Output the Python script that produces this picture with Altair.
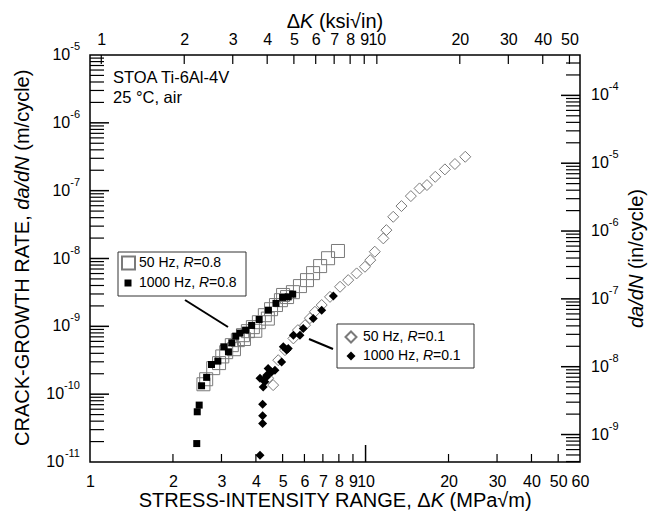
import altair as alt
import pandas as pd

# ---------------- data ----------------
# 50 Hz, R = 0.8 (open squares)
k_50_r08 = [2.58, 2.64, 2.80, 2.94, 3.02, 3.12, 3.27, 3.33, 3.44, 3.59, 3.62, 3.74, 3.90, 3.98,
            4.10, 4.31, 4.42, 4.54, 4.73, 4.93, 5.02, 5.19, 5.45, 5.78, 6.13, 6.45, 6.84, 7.31, 7.94]
v_50_r08 = [1.40e-10, 1.66e-10, 2.42e-10, 2.87e-10, 3.6e-10, 4.16e-10, 5.28e-10, 4.6e-10, 6.26e-10,
            7.41e-10, 6.5e-10, 8.49e-10, 9.73e-10, 8.6e-10, 1.15e-9, 1.46e-9, 1.3e-9, 1.79e-9, 2.06e-9,
            2.43e-9, 2.9e-9, 2.70e-9, 3.19e-9, 3.92e-9, 4.80e-9, 6.09e-9, 7.73e-9, 1.01e-8, 1.29e-8]

# 1000 Hz, R = 0.8 (filled squares)
k_1000_r08 = [2.44, 2.45, 2.49, 2.54, 2.65, 2.76, 2.91, 3.06, 3.18, 3.27, 3.38, 3.50, 3.67, 3.86,
              4.11, 4.44, 4.73, 5.00, 5.24, 5.44]
v_1000_r08 = [1.87e-11, 5.5e-11, 6.9e-11, 1.33e-10, 1.77e-10, 2.74e-10, 3.07e-10, 4.99e-10, 4.21e-10,
              5.71e-10, 7.17e-10, 7.94e-10, 8.79e-10, 1.03e-9, 1.26e-9, 1.73e-9, 2.18e-9, 2.67e-9,
              2.72e-9, 2.98e-9]

# 50 Hz, R = 0.1 (open diamonds)
k_50_r01 = [4.43, 4.62, 4.82, 5.10, 5.47, 5.68, 6.03, 6.28, 6.55, 6.93, 7.43, 8.08, 8.65, 9.28,
            9.95, 10.4, 10.8, 11.6, 11.9, 12.6, 13.5, 14.6, 15.7, 16.7, 17.9, 19.4, 21.1, 23.0]
v_50_r01 = [1.72e-10, 1.36e-10, 3.17e-10, 4.46e-10, 6.64e-10, 8.79e-10, 1.04e-9, 1.32e-9, 1.64e-9,
            2.06e-9, 2.72e-9, 3.83e-9, 4.80e-9, 6.03e-9, 7.55e-9, 9.46e-9, 1.26e-8, 1.98e-8, 2.62e-8,
            4.12e-8, 5.93e-8, 8.32e-8, 1.08e-7, 1.21e-7, 1.60e-7, 2.06e-7, 2.47e-7, 3.16e-7]

# 1000 Hz, R = 0.1 (filled diamonds)
k_1000_r01 = [4.14, 4.23, 4.23, 4.23, 4.25, 4.31, 4.14, 4.38, 4.38, 4.43, 4.56, 4.69, 4.96, 5.03,
              5.24, 5.17, 5.47, 5.78, 5.94, 6.46, 6.93, 7.64]
v_1000_r01 = [1.26e-11, 3.7e-11, 4.8e-11, 7.1e-11, 1.28e-10, 1.52e-10, 1.72e-10, 1.80e-10, 1.9e-10,
              2.39e-10, 2.13e-10, 2.26e-10, 2.99e-10, 4.99e-10, 4.72e-10, 4.46e-10, 7.41e-10,
              7.41e-10, 9.3e-10, 1.31e-9, 1.73e-9, 2.79e-9]

# axis tick values
bottom_labels = [1, 2, 3, 4, 5, 6, 7, 8, 9, 10, 20, 30, 40, 50, 60]
bottom_minor = [2, 3, 4, 5, 6, 7, 8, 9, 20, 30, 40, 50]
bottom_major = [10]
top_labels = [1, 2, 3, 4, 5, 6, 7, 8, 9, 10, 20, 30, 40, 50]
top_ticks = [1, 2, 3, 4, 5, 6, 7, 8, 9, 10, 20, 30, 40, 50]
left_exps = [-5, -6, -7, -8, -9, -10, -11]
right_exps = [-4, -5, -6, -7, -8, -9]
mult = [2, 3, 4, 5, 6, 7, 8, 9]

MPA_PER_KSI = 1.0988
IN_PER_M = 39.37
W, H = 490, 407
FONT = "Liberation Sans"
SPACE20 = 5.56  # width of a space at 20 px (Vega trims leading/trailing blanks)

left_major = [10.0 ** e for e in range(-10, -5)]
left_minor = [m * 10.0 ** e for e in range(-11, -5) for m in mult]
r_lo, r_hi = 1e-11 * IN_PER_M, 1e-5 * IN_PER_M
right_major = [10.0 ** e for e in right_exps]
right_minor = [m * 10.0 ** e for e in range(-10, -3) for m in mult if r_lo < m * 10.0 ** e < r_hi]

xs = alt.Scale(type="log", domain=[1, 60], nice=False)
ys = alt.Scale(type="log", domain=[1e-11, 1e-5], nice=False)
xs_top = alt.Scale(type="log", domain=[1 / MPA_PER_KSI, 60 / MPA_PER_KSI], nice=False)
ys_right = alt.Scale(type="log", domain=[r_lo, r_hi], nice=False)

axX = alt.Axis(title=None, values=bottom_labels, ticks=False, domain=False, grid=False,
               labelFont=FONT, labelFontSize=16, labelColor="black", labelPadding=11,
               labelOverlap=False, labelFlush=False, format="d")
axTop = alt.Axis(orient="top", title=None, values=top_labels, ticks=False, domain=False, grid=False,
                 labelFont=FONT, labelFontSize=16, labelColor="black", labelPadding=8,
                 labelOverlap=False, labelFlush=False, format="d")

one = pd.DataFrame({"a": [0]})


def X(f):
    return alt.X(f, scale=xs, axis=axX)


def Y(f):
    return alt.Y(f, scale=ys, axis=None)


def txt(s, x, y, size=14, italic=False, align="left", baseline="middle", angle=0):
    kw = dict(text=s, font=FONT, fontSize=size,
              fontStyle="italic" if italic else "normal",
              align=align, baseline=baseline, color="black")
    if angle:
        kw["angle"] = angle
    return alt.Chart(one).mark_text(**kw).encode(x=alt.value(x), y=alt.value(y))


def series(k, v):
    return pd.DataFrame({"K": k, "v": v})


GRAY = "#7a7a7a"

open_sq = alt.Chart(series(k_50_r08, v_50_r08)).mark_point(
    shape="square", size=169, filled=False, color=GRAY, strokeWidth=1, opacity=1
).encode(x=X("K:Q"), y=Y("v:Q"))
open_dm = alt.Chart(series(k_50_r01, v_50_r01)).mark_point(
    shape="diamond", size=121, filled=False, color=GRAY, strokeWidth=1, opacity=1
).encode(x=X("K:Q"), y=Y("v:Q"))
fill_sq = alt.Chart(series(k_1000_r08, v_1000_r08)).mark_point(
    shape="square", size=49, filled=True, color="black", opacity=1
).encode(x=X("K:Q"), y=Y("v:Q"))
fill_dm = alt.Chart(series(k_1000_r01, v_1000_r01)).mark_point(
    shape="diamond", size=81, filled=True, color="black", opacity=1
).encode(x=X("K:Q"), y=Y("v:Q"))

# inward ticks (bottom / left)
b_minor = alt.Chart(pd.DataFrame({"t": bottom_minor})).mark_rule(color="black", strokeWidth=1.2).encode(
    x=X("t:Q"), y=alt.value(H), y2=alt.value(H - 8))
b_major = alt.Chart(pd.DataFrame({"t": bottom_major})).mark_rule(color="black", strokeWidth=1.5).encode(
    x=X("t:Q"), y=alt.value(H), y2=alt.value(H - 17))
l_minor = alt.Chart(pd.DataFrame({"t": left_minor})).mark_rule(color="black", strokeWidth=1.2).encode(
    y=Y("t:Q"), x=alt.value(0), x2=alt.value(14))
l_major = alt.Chart(pd.DataFrame({"t": left_major})).mark_rule(color="black", strokeWidth=1.5).encode(
    y=Y("t:Q"), x=alt.value(0), x2=alt.value(19))

# left tick labels 10^e
ldf = pd.DataFrame({"e": left_exps, "v": [10.0 ** e for e in left_exps],
                    "lab": [str(e) for e in left_exps]})
l_exp = alt.Chart(ldf).mark_text(font=FONT, fontSize=11, align="right", baseline="middle", dy=-8,
                                 color="black").encode(y=Y("v:Q"), x=alt.value(-10), text="lab:N")
l_base1 = alt.Chart(ldf).transform_filter("datum.e > -10").mark_text(
    font=FONT, fontSize=16, align="right", baseline="middle", color="black", text="10"
).encode(y=Y("v:Q"), x=alt.value(-10 - 9.8))
l_base2 = alt.Chart(ldf).transform_filter("datum.e <= -10").mark_text(
    font=FONT, fontSize=16, align="right", baseline="middle", color="black", text="10"
).encode(y=Y("v:Q"), x=alt.value(-10 - 15.9))

# legends
leg1_box = alt.Chart(one).mark_rect(fill="white", stroke="#333333", strokeWidth=1).encode(
    x=alt.value(28), x2=alt.value(156), y=alt.value(197), y2=alt.value(241))
leg1_s1 = alt.Chart(one).mark_point(shape="square", size=169, filled=False, color=GRAY, opacity=1).encode(
    x=alt.value(38.5), y=alt.value(208))
leg1_s2 = alt.Chart(one).mark_point(shape="square", size=49, filled=True, color="black", opacity=1).encode(
    x=alt.value(38), y=alt.value(228))
leg2_box = alt.Chart(one).mark_rect(fill="white", stroke="#333333", strokeWidth=1).encode(
    x=alt.value(247), x2=alt.value(384), y=alt.value(269), y2=alt.value(313))
leg2_s1 = alt.Chart(one).mark_point(shape="diamond", size=121, filled=False, color=GRAY, opacity=1).encode(
    x=alt.value(261), y=alt.value(282))
leg2_s2 = alt.Chart(one).mark_point(shape="diamond", size=81, filled=True, color="black", opacity=1).encode(
    x=alt.value(261), y=alt.value(301))


def legend_line(x0, y, hz, r):
    w_hz = {"50": 44.4, "1000": 59.9}[hz]
    return [txt(hz + " Hz,", x0, y), txt("R", x0 + w_hz, y, italic=True), txt("=" + r, x0 + w_hz + 10.1, y)]


leg_text = (legend_line(49, 208, "50", "0.8") + legend_line(49, 228, "1000", "0.8")
            + legend_line(273, 282, "50", "0.1") + legend_line(273, 301, "1000", "0.1"))

lead1 = alt.Chart(one).mark_rule(color="black", strokeWidth=2).encode(
    x=alt.value(95), x2=alt.value(138), y=alt.value(245), y2=alt.value(272))
lead2 = alt.Chart(one).mark_rule(color="black", strokeWidth=2).encode(
    x=alt.value(219), x2=alt.value(243), y=alt.value(284), y2=alt.value(294))

notes = [txt("STOA Ti-6Al-4V", 23, 28, size=16.5, baseline="alphabetic"),
         txt("25 °C, air", 23, 48, size=16.5, baseline="alphabetic")]

# axis titles (mixed italic pieces); blanks between pieces are given as offsets
bt_y = H + 45
titles = [
    txt("STRESS-INTENSITY RANGE, Δ", 340.7, bt_y, size=20, align="right", baseline="alphabetic"),
    txt("K", 340.7, bt_y, size=20, italic=True, baseline="alphabetic"),
    txt("(MPa√m)", 354.0 + SPACE20, bt_y, size=20, baseline="alphabetic"),
    txt("Δ", 210.1, -27, size=20, align="right", baseline="alphabetic"),
    txt("K", 210.1, -27, size=20, italic=True, baseline="alphabetic"),
    txt("(ksi√in)", 223.4 + SPACE20, -27, size=20, baseline="alphabetic"),
    txt("CRACK-GROWTH RATE,", -61, 154.7 + SPACE20, size=20, align="right", baseline="alphabetic", angle=270),
    txt("da/dN", -61, 154.7, size=20, italic=True, baseline="alphabetic", angle=270),
    txt("(m/cycle)", -61, 101.3 - SPACE20, size=20, baseline="alphabetic", angle=270),
    txt("da/dN", W + 63, 273.0, size=20, italic=True, baseline="alphabetic", angle=270),
    txt("(in/cycle)", W + 63, 219.6 - SPACE20, size=20, baseline="alphabetic", angle=270),
]

layerA = alt.layer(
    b_minor, b_major, l_minor, l_major, l_exp, l_base1, l_base2,
    open_sq, open_dm, fill_sq, fill_dm,
    lead1, lead2, leg1_box, leg1_s1, leg1_s2, leg2_box, leg2_s1, leg2_s2,
    *leg_text, *notes, *titles
)


# secondary axes (ksi sqrt(in) on top, in/cycle on right)
def XT(f):
    return alt.X(f, scale=xs_top, axis=axTop)


def YR(f):
    return alt.Y(f, scale=ys_right, axis=None)


t_ticks = alt.Chart(pd.DataFrame({"k": top_ticks})).mark_rule(color="black", strokeWidth=1.2).encode(
    x=XT("k:Q"), y=alt.value(0), y2=alt.value(9))
r_minor = alt.Chart(pd.DataFrame({"r": right_minor})).mark_rule(color="black", strokeWidth=1.2).encode(
    y=YR("r:Q"), x=alt.value(W), x2=alt.value(W - 14))
r_major = alt.Chart(pd.DataFrame({"r": right_major})).mark_rule(color="black", strokeWidth=1.5).encode(
    y=YR("r:Q"), x=alt.value(W), x2=alt.value(W - 19))
rdf = pd.DataFrame({"e": right_exps, "r": right_major, "lab": [str(e) for e in right_exps]})
r_base = alt.Chart(rdf).mark_text(font=FONT, fontSize=16, align="left", baseline="middle", color="black",
                                  text="10").encode(y=YR("r:Q"), x=alt.value(W + 11))
r_exp = alt.Chart(rdf).mark_text(font=FONT, fontSize=11, align="left", baseline="middle", dy=-8,
                                 color="black").encode(y=YR("r:Q"), x=alt.value(W + 11 + 17.8), text="lab:N")

layerB = alt.layer(t_ticks, r_minor, r_major, r_base, r_exp)

chart = alt.layer(layerA, layerB).resolve_scale(x="independent", y="independent").properties(
    width=W, height=H,
    autosize=alt.AutoSizeParams(type="none"),
    padding={"left": 90, "top": 55, "right": 74, "bottom": 49},
    background="white",
).configure_view(stroke="black", strokeWidth=1.5)

chart.save("out.html", embed_options={"renderer": "svg", "actions": False})
